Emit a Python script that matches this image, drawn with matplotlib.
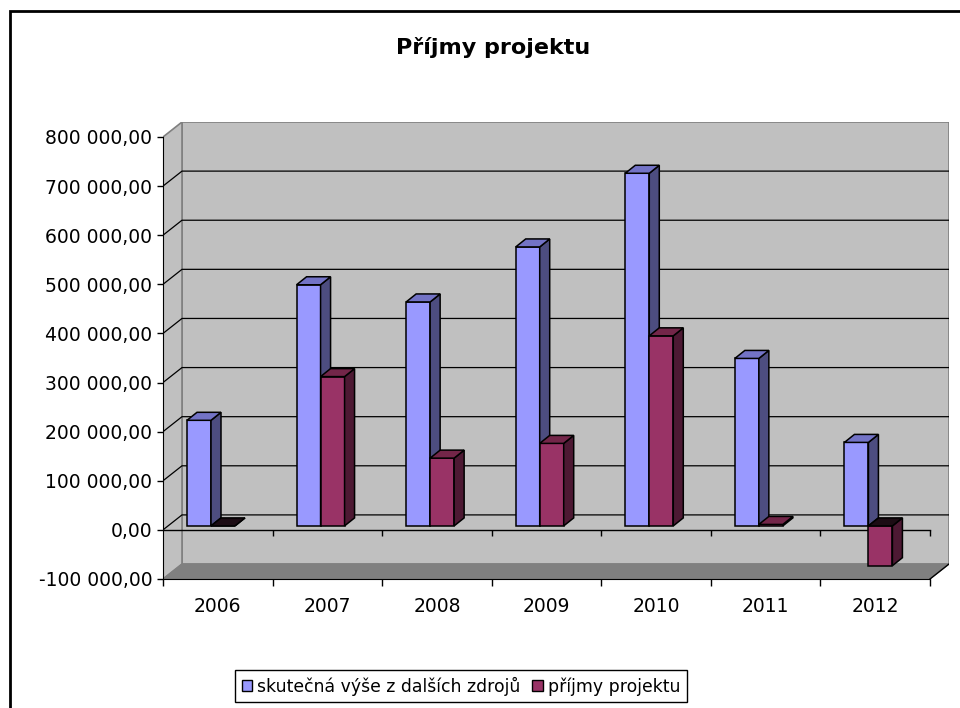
import numpy as np
import matplotlib.pyplot as plt
from matplotlib.patches import Polygon, Rectangle, Patch

# data
years = ['2006', '2007', '2008', '2009', '2010', '2011', '2012']
other_sources = [215000, 491000, 456000, 568000, 718000, 341000, 170000]
project_income = [0, 304000, 138000, 168000, 387000, 3000, -81000]
series_names = ['skutečná výše z dalších zdrojů', 'příjmy projektu']
y_ticks = np.arange(-100000, 800001, 100000)

# colours: front, top, side
blue = ('#9999ff', '#7373c6', '#4d4d80')
red = ('#993366', '#732649', '#4d1933')
wall = '#c0c0c0'
floor = '#808080'

W, H = 960, 708
fig = plt.figure(figsize=(W / 100, H / 100), dpi=100)


def fx(px):
    return px / W


def fy(py):
    return 1 - py / H


def fmt(v):
    return f'{v:,.2f}'.replace(',', ' ').replace('.', ',')


n = len(years)
# depth of the 3d box and of the bars, in data units
DX, DY = 0.1734, 30500
BAR_W = 0.219
BAR_LIFT = 8100
BDX, BDY = 0.0913, 16300

ax = fig.add_axes([fx(163), fy(579), fx(949) - fx(163), fy(122) - fy(579)])
ymin, ymax = y_ticks[0], y_ticks[-1]
ax.set_xlim(0, n + DX)
ax.set_ylim(ymin, ymax + DY)

# walls and floor
ax.add_patch(Rectangle((DX, ymin + DY), n, ymax - ymin, fc=wall, ec=floor, lw=1.2, zorder=0))
ax.add_patch(Polygon([(0, ymin), (0, ymax), (DX, ymax + DY), (DX, ymin + DY)],
                     closed=True, fc=wall, ec=floor, lw=1.2, zorder=0))
for t in y_ticks[1:-1]:
    ax.plot([0, DX, n + DX], [t, t + DY, t + DY], color='black', lw=0.9, zorder=0.5)
ax.add_patch(Polygon([(0, ymin), (n, ymin), (n + DX, ymin + DY), (DX, ymin + DY)],
                     closed=True, fc=floor, ec=floor, lw=0.8, zorder=0.6))
ax.plot([n, n + DX], [ymin, ymin + DY], color='black', lw=1, zorder=0.7)

# category axis at zero
ax.plot([0, n], [0, 0], color='black', lw=1, zorder=1)
ax.plot(np.arange(1, n + 1), np.zeros(n), ls='none', marker=3, ms=4.3, mew=1,
        color='black', zorder=1)


def draw_bar(x0, v, colors):
    b, t = min(v, 0), max(v, 0)
    x1 = x0 + BAR_W
    b += BAR_LIFT
    t += BAR_LIFT
    front = [(x0, b), (x1, b), (x1, t), (x0, t)]
    side = [(x1, b), (x1 + BDX, b + BDY), (x1 + BDX, t + BDY), (x1, t)]
    top = [(x0, t), (x1, t), (x1 + BDX, t + BDY), (x0 + BDX, t + BDY)]
    top_color = colors[1] if v > 0 else '#1c0c14'
    for pts, c in [(front, colors[0]), (side, colors[2]), (top, top_color)]:
        ax.add_patch(Polygon(pts, closed=True, fc=c, ec='black', lw=1.1,
                             joinstyle='miter', zorder=3))


for i in range(n):
    draw_bar(i + BAR_W, other_sources[i], blue)
    draw_bar(i + 2 * BAR_W, project_income[i], red)

# axes
for s in ['top', 'right']:
    ax.spines[s].set_visible(False)
ax.spines['left'].set_bounds(ymin, ymax)
ax.spines['bottom'].set_bounds(0, n)
ax.spines['left'].set_zorder(4)
ax.spines['bottom'].set_zorder(4)
ax.set_yticks(y_ticks)
ax.set_yticklabels([fmt(v) for v in y_ticks])
ax.set_xticks(np.arange(n + 1))
ax.set_xticklabels([])
ax.set_xticks(np.arange(n) + 0.5, minor=True)
ax.set_xticklabels(years, minor=True)
ax.tick_params(axis='y', direction='out', length=4.3, width=1, pad=3.5, labelsize=13.5)
ax.tick_params(axis='x', which='major', direction='out', length=5, width=1)
ax.tick_params(axis='x', which='minor', length=0, pad=13, labelsize=13.5)

fig.text(fx(493), fy(48), 'Příjmy projektu', ha='center', va='center',
         fontsize=16, fontweight='bold')

handles = [Patch(fc=blue[0], ec='black'), Patch(fc=red[0], ec='black')]
leg = fig.legend(handles, series_names, loc='center', bbox_to_anchor=(fx(461), fy(686)),
                 ncol=2, frameon=True, fancybox=False, edgecolor='black', framealpha=1,
                 handlelength=0.6, handleheight=0.6, handletextpad=0.3,
                 columnspacing=0.7, borderpad=0.4, fontsize=12.4)
leg.get_frame().set_linewidth(1)

# chart border
fig.add_artist(Rectangle((fx(10), -0.2), 1.0, fy(11) + 0.2, transform=fig.transFigure,
                         fill=False, ec='black', lw=2))

fig.savefig('out.png', dpi=100)
